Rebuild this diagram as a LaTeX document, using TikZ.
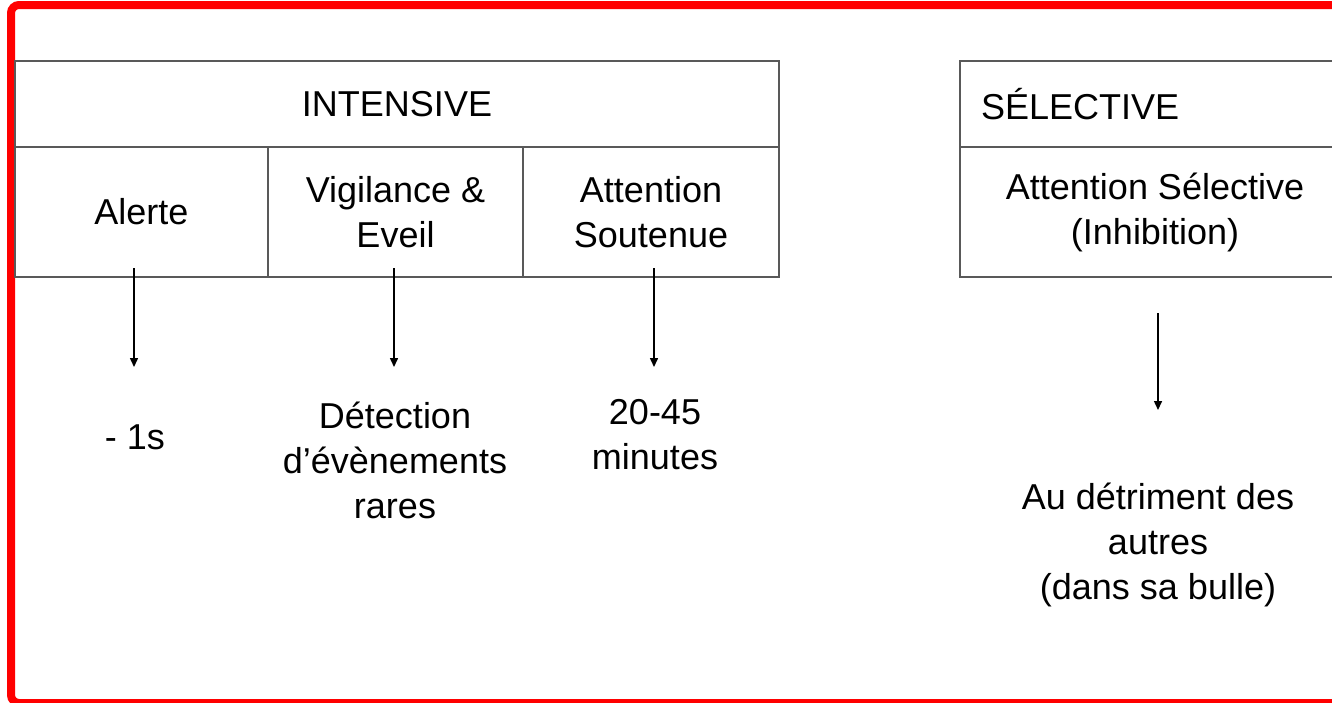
\documentclass[tikz,border=0pt]{standalone}
\usepackage{fontspec}
\setmainfont{Liberation Sans}
\usetikzlibrary{arrows.meta}

\tikzset{
  cell/.style={draw=black!65, line width=1pt, inner sep=0pt, outer sep=0pt,
    anchor=north west, align=center, minimum height=65pt},
  head/.style={cell, minimum height=43pt},
  txt/.style={align=center, inner sep=0pt},
  flow/.style={-{Triangle[width=4pt,length=4.5pt]}, line width=0.75pt}
}

\begin{document}
\begin{tikzpicture}[x=0.5pt,y=-0.5pt,font=\fontsize{18}{22.5}\selectfont]
  \useasboundingbox (0,0) rectangle (1332,702);
  \clip (0,0) rectangle (1332,702);

  % red frame, cut on the right
  \draw[red, line width=4pt, rounded corners=4pt]
      (1400,5) -- (11,5) -- (11,703) -- (1400,703);

  % intensive
  \node[head, minimum width=382pt] (int) at (15,61) {INTENSIVE};
  \node[cell, minimum width=126.5pt] (alerte) at (15,147) {Alerte};
  \node[cell, minimum width=127.5pt] (vigil) at (268,147) {Vigilance \&\\Eveil};
  \node[cell, minimum width=128pt] (sout) at (523,147) {Attention\\Soutenue};

  % selective
  \node[head, text width=174pt, inner xsep=10.5pt, align=left] (sel) at (960,61) {SÉLECTIVE};
  \node[cell, minimum width=195pt] (inhib) at (960,147) {Attention Sélective\\(Inhibition)};

  \node[txt] (m1) at (135,437) {- 1s};
  \node[txt] (detect) at (395,460) {Détection\\d’évènements\\rares};
  \node[txt] (dur) at (655,435) {20-45\\minutes};
  \node[txt] (autres) at (1158,545) {Au détriment des\\autres\\(dans sa bulle)};

  \coordinate (e1) at (134,367);
  \coordinate (e2) at (394,367);
  \coordinate (e3) at (654,367);
  \coordinate (e4) at (1158,410);

  \draw[flow] ([yshift=4.5pt]e1 |- alerte.south) -- (e1);
  \draw[flow] ([yshift=4.5pt]e2 |- vigil.south) -- (e2);
  \draw[flow] ([yshift=4.5pt]e3 |- sout.south) -- (e3);
  \draw[flow] ([yshift=-18pt]e4 |- inhib.south) -- (e4);
\end{tikzpicture}
\end{document}
